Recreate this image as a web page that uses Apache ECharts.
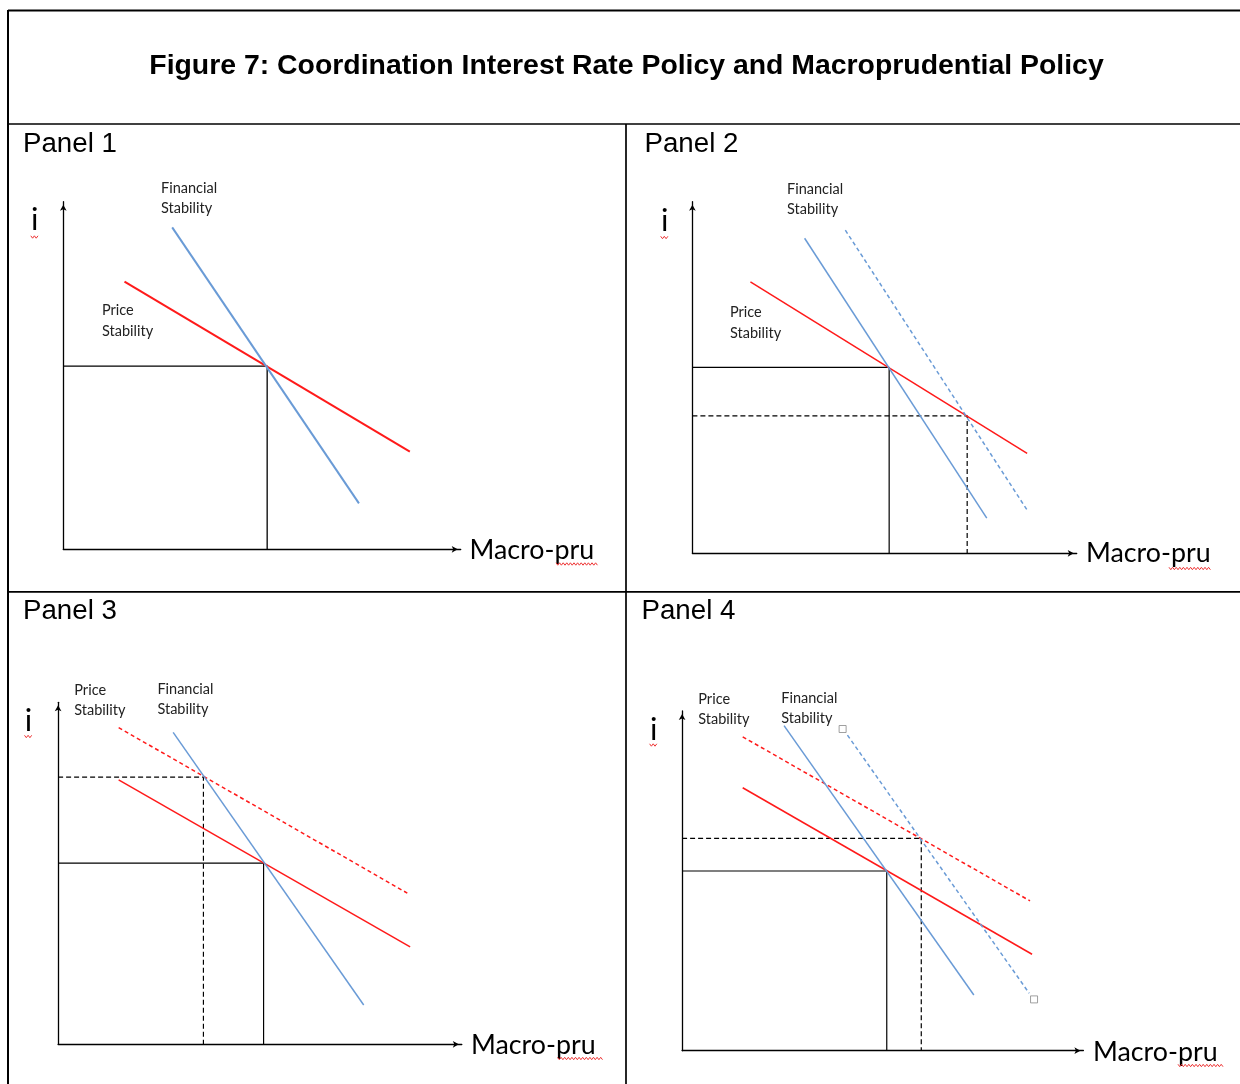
<!DOCTYPE html>
<html>
<head>
<meta charset="utf-8">
<script src="https://cdn.jsdelivr.net/npm/echarts@6/dist/echarts.min.js"></script>
<style>
html,body{margin:0;padding:0;background:#fff;}
#c{width:1240px;height:1084px;}
</style>
</head>
<body>
<div id="c"></div>
<script>
// ---- data (axis units: 0..100 on each panel) ----
const titleText = 'Figure 7: Coordination Interest Rate Policy and Macroprudential Policy';
const panelNames = ['Panel 1', 'Panel 2', 'Panel 3', 'Panel 4'];
const yAxisName = 'i';
const xAxisName = 'Macro-pru';
const priceLabel = 'Price\nStability';
const finLabel = 'Financial\nStability';

// Panel 1
const p1Price = [[15.4, 77.0], [87.2, 28.1]];
const p1Fin = [[27.4, 92.6], [74.4, 13.2]];
const p1Eq = [[0, 52.7], [51.3, 52.7], [51.3, 0]];

// Panel 2
const p2Price = [[15.1, 77.2], [87.1, 28.4]];
const p2Fin = [[29.2, 89.6], [76.6, 10.0]];
const p2FinNew = [[39.8, 91.9], [87.1, 12.3]];
const p2Eq = [[0, 52.9], [51.2, 52.9], [51.2, 0]];
const p2EqNew = [[0, 39.1], [71.5, 39.1], [71.5, 0]];

// Panel 3
const p3Price = [[15.0, 77.3], [87.2, 28.5]];
const p3PriceNew = [[15.0, 92.6], [86.5, 44.2]];
const p3Fin = [[28.5, 91.2], [75.7, 11.5]];
const p3Eq = [[0, 53.0], [50.9, 53.0], [50.9, 0]];
const p3EqNew = [[0, 78.1], [36.0, 78.1], [36.0, 0]];

// Panel 4
const p4Price = [[15.1, 77.4], [87.2, 28.4]];
const p4PriceNew = [[15.1, 92.4], [86.7, 44.1]];
const p4Fin = [[25.4, 95.7], [72.7, 16.4]];
const p4FinNew = [[41.2, 92.9], [86.5, 16.9]];
const p4Handles = [[40.0, 94.7], [87.7, 15.1]];
const p4Eq = [[0, 52.9], [51.0, 52.9], [51.0, 0]];
const p4EqNew = [[0, 62.5], [59.6, 62.5], [59.6, 0]];

// ---- layout ----
const grids = [
  {ox: 63.3, oy: 549.3, tx: 460.7, ty: 201.7},
  {ox: 692.4, oy: 553.3, tx: 1076.7, ty: 201.7},
  {ox: 58.1, oy: 1044.3, tx: 461.8, ty: 702.3},
  {ox: 682.1, oy: 1050.7, tx: 1083.4, ty: 711.0}
];
const RED = '#ff1a1a';
const BLUE = '#6a9bd6';

const chart = echarts.init(document.getElementById('c'), null, {renderer: 'canvas'});

const axisCommon = {
  type: 'value', min: 0, max: 100,
  axisTick: {show: false}, axisLabel: {show: false}, splitLine: {show: false},
  axisLine: {show: true, onZero: false, symbol: ['none', 'arrow'], symbolSize: [5, 6], symbolOffset: [0, -3],
    lineStyle: {color: '#000', width: 1.3}}
};

const gridOpts = grids.map(g => ({left: g.ox, top: g.ty, width: g.tx - g.ox, height: g.oy - g.ty, containLabel: false, outerBoundsMode: 'none'}));
const xAxes = grids.map((g, i) => Object.assign({gridIndex: i}, JSON.parse(JSON.stringify(axisCommon))));
const yAxes = grids.map((g, i) => Object.assign({gridIndex: i}, JSON.parse(JSON.stringify(axisCommon))));

function ln(gi, data, color, width, dash, z) {
  return {type: 'line', xAxisIndex: gi, yAxisIndex: gi, data: data, symbol: 'none', silent: true,
    animation: false, clip: false, z: z || 2,
    lineStyle: {color: color, width: width, type: dash || 'solid', cap: 'butt'}};
}
const D_BLACK = [5, 3];
const D_COLOR = [4, 3];

const series = [
  ln(0, p1Eq, '#000', 1.3),
  ln(0, p1Price, RED, 2, null, 3),
  ln(0, p1Fin, BLUE, 2, null, 4),

  ln(1, p2Eq, '#000', 1.2),
  ln(1, p2EqNew, '#000', 1.2, D_BLACK),
  ln(1, p2Price, RED, 1.5, null, 3),
  ln(1, p2Fin, BLUE, 1.5, null, 4),
  ln(1, p2FinNew, BLUE, 1.5, D_COLOR, 4),

  ln(2, p3Eq, '#000', 1.2),
  ln(2, p3EqNew, '#000', 1.2, D_BLACK),
  ln(2, p3Price, RED, 1.5, null, 3),
  ln(2, p3PriceNew, RED, 1.5, D_COLOR, 3),
  ln(2, p3Fin, BLUE, 1.5, null, 4),

  ln(3, p4Eq, '#000', 1.2),
  ln(3, p4EqNew, '#000', 1.2, D_BLACK),
  ln(3, p4Price, RED, 1.5, null, 3),
  ln(3, p4PriceNew, RED, 1.5, D_COLOR, 3),
  ln(3, p4Fin, BLUE, 1.5, null, 4),
  ln(3, p4FinNew, BLUE, 1.5, D_COLOR, 4),
  {type: 'scatter', xAxisIndex: 3, yAxisIndex: 3, data: p4Handles, symbol: 'rect', symbolSize: 7,
    silent: true, animation: false, z: 6,
    itemStyle: {color: '#fff', borderColor: '#888', borderWidth: 1}}
];

// ---- graphic: table borders, texts ----
const graphic = [];
function gline(x1, y1, x2, y2, w) {
  graphic.push({type: 'line', silent: true, shape: {x1, y1, x2, y2}, style: {stroke: '#000', lineWidth: w}});
}
gline(8, 10.5, 1240, 10.5, 2);
gline(8, 10, 8, 1084, 2);
gline(8, 124, 1240, 124, 1.7);
gline(626, 124, 626, 1084, 1.7);
gline(8, 591.8, 1240, 591.8, 1.7);

function gtext(x, y, text, font, opts) {
  graphic.push({type: 'text', silent: true, x: x, y: y,
    style: Object.assign({text: text, font: font, fill: '#000', textAlign: 'left', textVerticalAlign: 'middle'}, opts || {})});
}
function squiggle(x1, x2, y) {
  const pts = [];
  let up = true;
  for (let x = x1; x <= x2; x += 1.8) { pts.push([x, up ? y - 1.2 : y + 1.2]); up = !up; }
  graphic.push({type: 'polyline', silent: true, shape: {points: pts}, style: {stroke: '#e33', lineWidth: 1, fill: null}});
}

gtext(626.5, 66.5, titleText, 'bold 28.4px "Liberation Sans", Arial, sans-serif', {textAlign: 'center'});

const panelPos = [[23, 144], [644.5, 144], [23, 611], [641.5, 611]];
panelPos.forEach((p, i) => gtext(p[0], p[1], panelNames[i], '27.7px "Liberation Sans", Arial, sans-serif'));

const iPos = [[34.8, 220, 237], [664.7, 221, 237.5], [28.5, 721, 736.5], [653.6, 729.5, 745]];
iPos.forEach(p => {
  gtext(p[0], p[1], yAxisName, '31px Lato, "Open Sans", sans-serif', {textAlign: 'center'});
  squiggle(p[0] - 4, p[0] + 4, p[2]);
});

const mpPos = [[469.5, 550, 556, 599, 564], [1086, 553.5, 1169, 1211, 568.5], [471, 1045, 557.5, 603, 1058.5], [1093, 1052, 1178, 1224, 1065.5]];
mpPos.forEach(p => {
  gtext(p[0], p[1], xAxisName, '26.8px Lato, "Open Sans", sans-serif');
  squiggle(p[2], p[3], p[4]);
});

const lblFont = '14.5px Lato, "Open Sans", sans-serif';
const lblStyle = {lineHeight: 20.5, fill: '#222'};
// [x, yCenter, text]
const lblPos = [
  [161, 198.5, finLabel], [102, 321, priceLabel],
  [787, 199.5, finLabel], [730, 323, priceLabel],
  [74.3, 700.5, priceLabel], [157.4, 699.5, finLabel],
  [698.3, 709.3, priceLabel], [781.3, 708.3, finLabel]
];
lblPos.forEach(p => gtext(p[0], p[1], p[2], lblFont, lblStyle));

chart.setOption({
  animation: false,
  backgroundColor: '#fff',
  grid: gridOpts,
  xAxis: xAxes,
  yAxis: yAxes,
  series: series,
  graphic: graphic
});
</script>
</body>
</html>
